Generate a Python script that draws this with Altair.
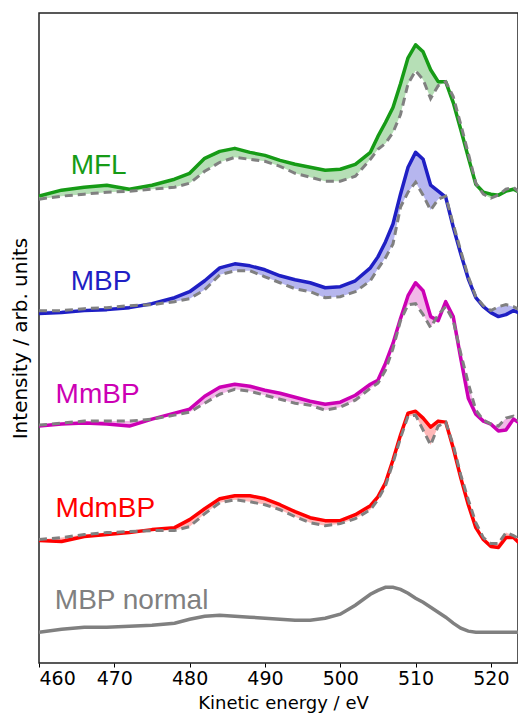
import altair as alt
import pandas as pd

energy = [460, 463, 466, 469, 472, 475, 478, 480, 482, 484, 486, 488, 490, 492, 494, 496, 498, 500, 502, 504,
          505, 506, 507, 508, 509, 510, 511, 512, 513, 514, 515, 516, 517, 518, 519, 520, 521, 522, 523, 524, 525]

mfl = [469, 475, 478, 480, 476, 480, 486, 492, 507, 514, 517, 513, 510, 505, 501, 498, 495, 496, 501, 513,
       529, 543, 558, 582, 608, 621, 614, 596, 584, 584, 563, 536, 508, 481, 473, 471, 470, 474, 476, 472, 468]
mfl_ref = [466, 469, 471, 473, 474, 476, 478, 482, 494, 503, 508, 506, 504, 499, 492, 488, 484, 484, 489, 506,
           516, 522, 533, 551, 582, 595, 586, 567, 580, 584, 569, 541, 512, 482, 471, 467, 470, 476, 478, 471, 466]

mbp = [351, 352, 354, 355, 357, 361, 367, 373, 384, 397, 401, 399, 395, 389, 385, 382, 377, 378, 384, 397,
       408, 423, 441, 471, 498, 513, 506, 480, 474, 468, 438, 411, 386, 367, 358, 352, 348, 350, 354, 351, 348]
mbp_ref = [354, 354, 356, 357, 359, 360, 363, 366, 375, 390, 394, 394, 388, 382, 376, 373, 367, 368, 373, 384,
           396, 407, 421, 458, 473, 483, 470, 455, 466, 469, 441, 414, 388, 368, 359, 354, 358, 360, 358, 354, 348]

mmbp = [238, 240, 241, 240, 238, 245, 251, 255, 268, 277, 280, 278, 274, 271, 267, 263, 260, 262, 269, 280,
        284, 301, 321, 346, 369, 382, 374, 348, 344, 363, 348, 306, 266, 250, 243, 240, 233, 234, 245, 240, 236]
mmbp_ref = [239, 241, 243, 243, 243, 245, 249, 252, 261, 270, 275, 273, 269, 265, 261, 259, 254, 257, 264, 276,
            281, 294, 316, 344, 360, 361, 350, 337, 350, 358, 344, 311, 281, 254, 244, 240, 238, 246, 248, 241, 236]

mdmbp = [123, 122, 127, 129, 131, 134, 136, 144, 155, 165, 168, 168, 165, 159, 152, 146, 143, 143, 149, 158,
         167, 181, 204, 229, 251, 253, 246, 237, 243, 242, 216, 186, 159, 136, 124, 117, 116, 126, 126, 119, 116]
mdmbp_ref = [124, 126, 129, 131, 132, 133, 133, 137, 150, 161, 164, 162, 159, 154, 147, 141, 138, 140, 145, 154,
             164, 178, 201, 226, 248, 249, 234, 219, 238, 242, 219, 189, 164, 141, 126, 120, 120, 131, 128, 123, 118]

mbp_normal = [31, 34, 36, 36, 37, 38, 40, 44, 47, 48, 47, 46, 45, 44, 43, 43, 45, 49, 58, 69,
              73, 76, 76, 74, 70, 65, 61, 56, 51, 46, 40, 35, 32, 31, 31, 31, 31, 31, 31, 31, 31]

names = ["MFL", "MBP", "MmBP", "MdmBP"]
line_colors = ["#169b16", "#1f1fc4", "#cc00b4", "#ff0000"]
fill_colors = ["#b6dfb6", "#b6b6ee", "#f2b8e8", "#ffb8b8"]
gray = "#808080"

label_names = ["MFL", "MBP", "MmBP", "MdmBP", "MBP normal"]
label_e = [464.2, 464.2, 462.2, 462.2, 462.1]
label_v = [491, 375, 261, 147, 54]
label_colors = line_colors + [gray]

rows = []
for name, s, r in zip(names, [mfl, mbp, mmbp, mdmbp], [mfl_ref, mbp_ref, mmbp_ref, mdmbp_ref]):
    for e, v, rv in zip(energy, s, r):
        rows.append({"E": e, "sample": name, "value": v, "ref": rv})
df = pd.DataFrame(rows)
normal_df = pd.DataFrame({"E": energy, "value": mbp_normal})
labels_df = pd.DataFrame({"label": label_names, "E": label_e, "value": label_v})

axis_font = "DejaVu Sans"
xscale = alt.Scale(domain=[460, 523.6], nice=False, zero=False)
yscale = alt.Scale(domain=[0, 653], nice=False, zero=False)
xaxis = alt.Axis(values=[460, 470, 480, 490, 500, 510, 520], format="d", title="Kinetic energy / eV",
                 labelFont=axis_font, labelFontSize=19, labelColor="black", labelPadding=2,
                 tickColor="black", tickSize=4, tickWidth=1, domain=False, grid=False,
                 titleFont=axis_font, titleFontSize=18, titleFontWeight="normal", titleColor="black",
                 titleY=31, titleBaseline="top", titleX=244, titleAlign="center")
yaxis = alt.Axis(labels=False, ticks=False, domain=False, grid=False, title="Intensity / arb. units",
                 titleFont=axis_font, titleFontSize=20, titleFontWeight="normal", titleColor="black",
                 titleX=-19, titleY=325, titleBaseline="middle", titleAlign="center")

x = alt.X("E:Q", scale=xscale, axis=xaxis)
y = alt.Y("value:Q", scale=yscale, axis=yaxis)

base = alt.Chart(df)
area = base.mark_area(clip=True).encode(
    x=x, y=y, y2="ref:Q",
    fill=alt.Fill("sample:N", scale=alt.Scale(domain=names, range=fill_colors), legend=None),
    detail="sample:N")
lines = base.mark_line(clip=True, strokeWidth=3.5, strokeJoin="round").encode(
    x=x, y=y,
    stroke=alt.Stroke("sample:N", scale=alt.Scale(domain=names, range=line_colors), legend=None),
    detail="sample:N")
refs = base.mark_line(clip=True, strokeWidth=3, strokeDash=[8, 5], color=gray).encode(
    x=x, y=alt.Y("ref:Q", scale=yscale, axis=yaxis), detail="sample:N")
normal = alt.Chart(normal_df).mark_line(clip=True, strokeWidth=3.5, color=gray).encode(x=x, y=y)
texts = alt.Chart(labels_df).mark_text(align="left", baseline="alphabetic", fontSize=28,
                                       font="Liberation Sans").encode(
    x=x, y=y, text="label:N",
    color=alt.Color("label:N", scale=alt.Scale(domain=label_names, range=label_colors), legend=None))

chart = alt.layer(area, lines, refs, normal, texts).properties(
    width=479, height=650,
    autosize=alt.AutoSizeParams(type="none"),
    padding={"left": 31, "top": 5, "right": 0, "bottom": 53},
).configure_view(stroke="#222222", strokeWidth=1.5)

chart.save("out.html", embed_options={"renderer": "svg", "actions": False})
